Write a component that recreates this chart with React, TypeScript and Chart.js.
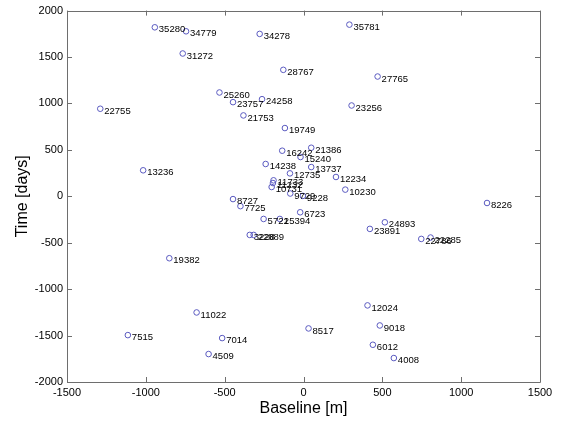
import React, { useEffect, useRef } from "react";
import { Chart, registerables } from "chart.js";

Chart.register(...registerables);

const pointLabels = [
  "35280", "34779", "34278", "31272", "35781", "28767", "27765", "25260", "24258", "23757",
  "23256", "22755", "21753", "19749", "21386", "16242", "15240", "14238", "13737", "13236",
  "12735", "12234", "11733", "11232", "10731", "10230", "9729", "9228", "8727", "8226",
  "7725", "6723", "5721", "25394", "24893", "23891", "3228", "22889", "22786", "22285",
  "19382", "12024", "11022", "9018", "8517", "7515", "7014", "6012", "4509", "4008",
];
const baselineValues = [
  -943, -745, -278, -766, 291, -128, 470, -533, -263, -447,
  305, -1289, -381, -118, 49, -135, -19, -240, 49, -1017,
  -86, 206, -190, -194, -202, 265, -84, -4, -447, 1164,
  -400, -21, -253, -150, 516, 421, -341, -316, 747, 806,
  -851, 406, -678, 484, 32, -1114, -516, 440, -602, 573,
];
const timeValues = [
  1820, 1777, 1749, 1538, 1849, 1362, 1290, 1118, 1046, 1014,
  978, 943, 871, 735, 523, 491, 423, 348, 315, 280,
  247, 208, 172, 143, 100, 72, 30, 4, -30, -72,
  -106, -172, -244, -244, -280, -351, -416, -416, -459, -444,
  -667, -1175, -1251, -1391, -1423, -1495, -1527, -1599, -1699, -1742,
];
const xTicks = [-1500, -1000, -500, 0, 500, 1000, 1500];
const yTicks = [-2000, -1500, -1000, -500, 0, 500, 1000, 1500, 2000];

const FONT = "Arial, 'Liberation Sans', Helvetica, sans-serif";

const framePlugin = {
  id: "matlabFrame",
  afterDraw(chart: any) {
    const { ctx, chartArea, scales } = chart;
    const { left, right, top, bottom } = chartArea;
    ctx.save();
    ctx.strokeStyle = "#6e6e6e";
    ctx.lineWidth = 1;
    ctx.beginPath();
    ctx.rect(Math.round(left) + 0.5, Math.round(top) + 0.5, Math.round(right - left), Math.round(bottom - top));
    const tl = 5;
    xTicks.forEach((v) => {
      const px = Math.round(scales.x.getPixelForValue(v)) + 0.5;
      ctx.moveTo(px, bottom);
      ctx.lineTo(px, bottom - tl);
      ctx.moveTo(px, top);
      ctx.lineTo(px, top + tl);
    });
    yTicks.forEach((v) => {
      const py = Math.round(scales.y.getPixelForValue(v)) + 0.5;
      ctx.moveTo(left, py);
      ctx.lineTo(left + tl, py);
      ctx.moveTo(right, py);
      ctx.lineTo(right - tl, py);
    });
    ctx.stroke();
    ctx.restore();
  },
};

const labelPlugin = {
  id: "pointLabels",
  afterDatasetsDraw(chart: any) {
    const { ctx } = chart;
    const meta = chart.getDatasetMeta(0);
    ctx.save();
    ctx.font = `9.5px ${FONT}`;
    ctx.fillStyle = "#000";
    ctx.textAlign = "left";
    ctx.textBaseline = "middle";
    meta.data.forEach((el: any, i: number) => {
      ctx.fillText(pointLabels[i], el.x + 4, el.y + 2.5);
    });
    ctx.restore();
  },
};

export default function App() {
  const canvasRef = useRef<HTMLCanvasElement | null>(null);

  useEffect(() => {
    document.body.style.margin = "0";
    const canvas = canvasRef.current;
    if (!canvas) return;
    const data = baselineValues.map((x, i) => ({ x, y: timeValues[i] }));
    const chart = new Chart(canvas, {
      type: "scatter",
      data: {
        datasets: [
          {
            data,
            pointStyle: "circle",
            pointRadius: 2.8,
            pointBorderWidth: 1,
            pointBorderColor: "#5a5ac0",
            pointBackgroundColor: "rgba(0,0,0,0)",
          },
        ],
      },
      options: {
        animation: false,
        responsive: false,
        devicePixelRatio: 1,
        layout: { padding: { top: 9, right: 28, left: 0, bottom: 0 } },
        plugins: {
          legend: { display: false },
          tooltip: { enabled: false },
        },
        scales: {
          x: {
            type: "linear",
            min: -1500,
            max: 1500,
            afterFit(scale: any) {
              scale.height = 41;
            },
            afterBuildTicks(scale: any) {
              scale.ticks = xTicks.map((v) => ({ value: v }));
            },
            grid: { display: false, drawTicks: false },
            border: { display: false },
            ticks: {
              color: "#000",
              padding: 4,
              font: { family: FONT, size: 11 },
              maxRotation: 0,
              callback: (v: any) => String(v),
            },
            title: {
              display: true,
              text: "Baseline [m]",
              color: "#000",
              font: { family: FONT, size: 16 },
              padding: { top: 0, bottom: 5 },
            },
          },
          y: {
            type: "linear",
            min: -2000,
            max: 2000,
            afterFit(scale: any) {
              scale.width = 67;
            },
            afterBuildTicks(scale: any) {
              scale.ticks = yTicks.map((v) => ({ value: v }));
            },
            grid: { display: false, drawTicks: false },
            border: { display: false },
            ticks: {
              color: "#000",
              padding: 4,
              font: { family: FONT, size: 11 },
              callback: (v: any) => String(v),
            },
            title: {
              display: true,
              text: "Time [days]",
              color: "#000",
              font: { family: FONT, size: 16 },
              padding: { top: 13, bottom: 0 },
            },
          },
        },
      },
      plugins: [framePlugin, labelPlugin],
    } as any);
    return () => chart.destroy();
  }, []);

  return (
    <div style={{ width: 568, height: 423, background: "#fff" }}>
      <canvas ref={canvasRef} width={568} height={423} style={{ display: "block" }} />
    </div>
  );
}
